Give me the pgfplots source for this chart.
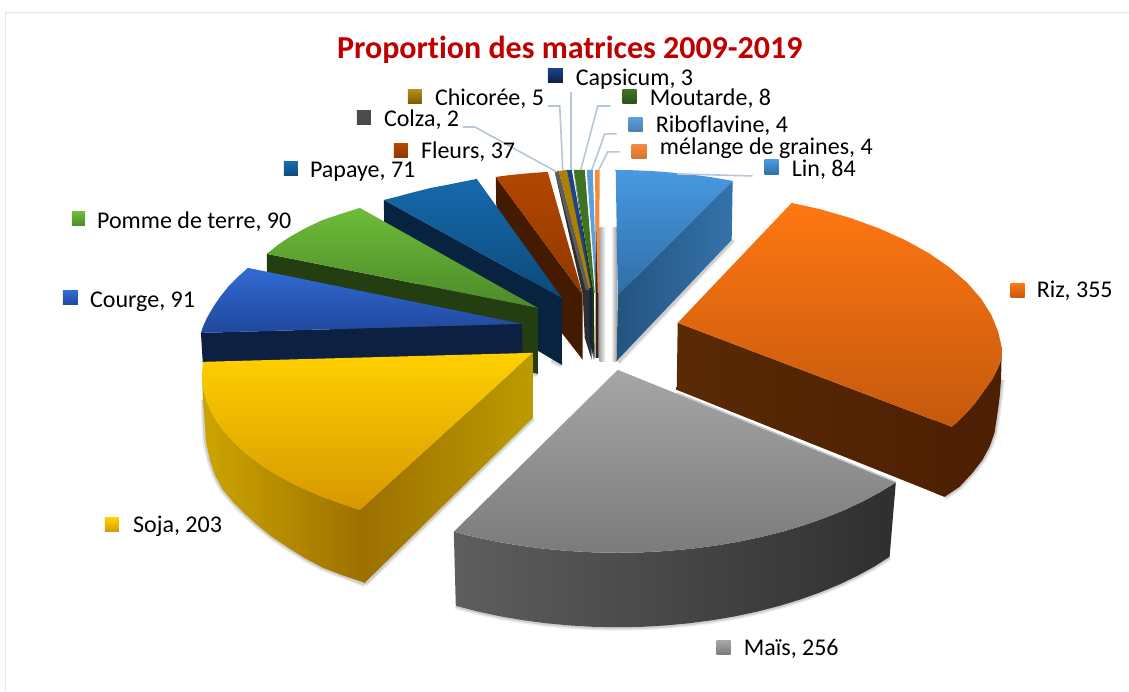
\documentclass[border=0pt]{standalone}
\usepackage{pgfplots}
\pgfplotsset{compat=1.18}
\usepackage{fontspec}
\setmainfont[Ligatures=NoCommon]{Carlito}
\definecolor{lead}{HTML}{B7C6DA}
\definecolor{titre}{HTML}{C00000}
\definecolor{frameC}{HTML}{E3E7ED}
\definecolor{linA}{HTML}{4899E2}\definecolor{linB}{HTML}{2F6DA6}\definecolor{linL}{HTML}{245480}\definecolor{linR}{HTML}{3472AA}
\definecolor{rizA}{HTML}{FF7712}\definecolor{rizB}{HTML}{C4590D}\definecolor{rizL}{HTML}{5A2A05}\definecolor{rizR}{HTML}{4E2003}
\definecolor{maiA}{HTML}{A6A6A6}\definecolor{maiB}{HTML}{7B7B7B}\definecolor{maiL}{HTML}{5E5E5E}\definecolor{maiR}{HTML}{2F2F2F}
\definecolor{sojA}{HTML}{FFD000}\definecolor{sojB}{HTML}{D69800}\definecolor{sojL}{HTML}{CDA500}\definecolor{sojM}{HTML}{9C6F00}\definecolor{sojR}{HTML}{BC9C00}
\definecolor{couA}{HTML}{316AD4}\definecolor{couB}{HTML}{20489C}\definecolor{couS}{HTML}{0E2041}
\definecolor{pomA}{HTML}{6EBC38}\definecolor{pomB}{HTML}{4B8A2A}\definecolor{pomS}{HTML}{243E11}
\definecolor{papA}{HTML}{1769AC}\definecolor{papB}{HTML}{0C4A7B}\definecolor{papS}{HTML}{07233F}
\definecolor{fleA}{HTML}{B34700}\definecolor{fleB}{HTML}{8F3700}\definecolor{fleS}{HTML}{441B00}
\definecolor{colT}{HTML}{5C5C5C}\definecolor{colS}{HTML}{2E2E2E}
\definecolor{chiT}{HTML}{AD8000}\definecolor{capT}{HTML}{1C4288}\definecolor{capS}{HTML}{0C1F45}
\definecolor{mouT}{HTML}{3F7322}\definecolor{mouS}{HTML}{1E3610}
\definecolor{ribT}{HTML}{5E9DD8}\definecolor{melT}{HTML}{F58A3A}\definecolor{melS}{HTML}{3A2015}
\newcommand{\lab}[3]{\node[anchor=base west,inner sep=0pt,font=\fontsize{24}{26}\selectfont,text=black] at (axis cs:#1,#2) {#3};}
\newcommand{\poly}[2]{\addplot[forget plot,draw=none,#1] coordinates {#2} -- cycle;}
\newcommand{\key}[6]{\addplot[forget plot,draw=none,top color=#1,bottom color=#2] coordinates {(#3,#4) (#5,#4) (#5,#6) (#3,#6)} -- cycle;}
\newcommand{\lead}[1]{\addplot[forget plot,color=lead,line width=1.6pt] coordinates {#1};}
\newcommand{\shadow}[1]{\addplot[forget plot,color=black,opacity=0.07,line width=7pt] coordinates {#1};\addplot[forget plot,color=black,opacity=0.13,line width=4pt] coordinates {#1};}
\begin{document}
\begin{tikzpicture}
\begin{axis}[hide axis,scale only axis,width=1129pt,height=691pt,xmin=0,xmax=1129,ymin=0,ymax=691,y dir=reverse,clip=false]
% background and frame
\poly{fill=white}{(0,0) (1129,0) (1129,691) (0,691)}
\addplot[forget plot,color=frameC,line width=1.8pt] coordinates {(5.5,691) (5.5,12.5)};
\addplot[forget plot,color=frameC,line width=1pt] coordinates {(5.5,12.5) (1129,12.5)};
% soft shadows
\poly{left color=white,right color=black!38}{(611,228) (617,228) (617,362) (611,362)}
\poly{left color=black!32,right color=white}{(600,228) (606,228) (606,362) (600,362)}
\shadow{(733,240) (618,362)}
\shadow{(533,418) (365,584)}
\shadow{(204,400) (205,425) (206,442) (210,460) (215,475) (223,490) (234,503) (245,514) (257,525) (272,537) (290,549) (306,559) (323,568) (344,576) (365,584)}
\shadow{(890,557) (874.4,567) (857.7,576.1) (839.8,584.7) (820.8,592.5) (800.8,599.7) (780,606.1) (758.3,611.7) (736,616.5) (713.1,620.4) (689.7,623.5) (666,625.7) (642.1,627.1) (618,627.5) (593.9,627.1) (570,625.7) (546.3,623.5) (522.9,620.4) (500,616.5) (477.7,611.7) (456,606.1)}
\shadow{(1002,380) (998,413) (995,433) (990,447) (983,460) (973,473) (960,487) (945,497)}
\shadow{(538,374) (530,373)}
\shadow{(562,365) (552,360)}
% Lin
\poly{left color=linL,right color=linR}{(618,295) (733,181) (732,240) (617,361)}
\poly{top color=linA,bottom color=linB}{(618,295) (616,170) (630,170.2) (650,171) (665,172) (680,173.5) (695,175) (710,177) (722,179) (733,181)}
% slivers
\poly{fill=colS}{(555,172) (592,290) (592,360) (585,338) (583,295)}
\poly{fill=colT}{(555,172) (559,171) (590,290) (586,290)}
\poly{fill=capS}{(565,172) (593,290) (594,360) (590,340) (590,290)}
\poly{fill=chiT}{(559,171) (567,170) (592,288) (589,288)}
\poly{fill=capT}{(567,170) (572,170) (594,293) (592,293)}
\poly{fill=mouS}{(574,172) (594,293) (595,360) (592,340) (592,293)}
\poly{fill=mouT}{(574,170) (585,170) (595,293) (594,293)}
\poly{fill=ribT}{(587,170) (593,170) (597,293) (596,293)}
\poly{fill=melS}{(596,200) (599,293) (599,358) (596,358) (596,293)}
\poly{fill=melT}{(595,170) (600,170) (599,293) (598,293)}
% Fleurs
\poly{fill=fleS}{(496,177) (583,295) (583,360) (562,333) (497,235)}
\poly{top color=fleA,bottom color=fleB}{(496,177) (509,175.3) (522,174) (535,172.8) (548,172) (583,295)}
% Papaye
\poly{fill=papS}{(384,200) (562,298) (562,365) (540,352) (385,265)}
\poly{top color=papA,bottom color=papB}{(384,200) (400,196) (415,192) (431,188) (447,185) (462,182) (477,179) (562,298)}
% Pomme de terre
\poly{fill=pomS}{(267,254) (538,308) (538,374) (530,372) (267,310)}
\poly{top color=pomA,bottom color=pomB}{(267,254) (278,245) (290,237) (306,228) (323,220) (341,214) (360,208) (538,308)}
% Courge
\poly{fill=couS}{(201,333) (522,324) (523,356) (203,365)}
\poly{top color=couA,bottom color=couB}{(248,268) (238,277) (229,286) (221,296) (214,306) (207,318) (203,327) (201,333) (522,324)}
% Soja
\poly{left color=sojL,right color=sojM}{(202,375) (203.3,388.8) (207,402.4) (213.3,415.9) (222,429) (233,441.8) (246.4,454) (261.8,465.6) (279.5,476.6) (299,486.7) (320.2,496) (343.1,504.4) (360,510) (368,510) (368,578) (365,583) (344,576) (323,568) (306,559) (290,549) (272,537) (257,525) (245,514) (234,503) (223,490) (215,475) (210,460) (206,442) (205,425) (203,400)}
\poly{left color=sojM,right color=sojR}{(360,510) (533,353) (533,418) (365,583)}
\poly{top color=sojA,bottom color=sojB}{(203,362) (533,353) (360,510) (343.1,504.4) (320.2,496) (299,486.7) (279.5,476.6) (261.8,465.6) (246.4,454) (233,441.8) (222,429) (213.3,415.9) (207,402.4) (203.3,388.8) (202,375) (202.5,369)}
% Riz
\poly{fill=rizR}{(935,420) (952,427) (959,421) (967,413) (975,404) (983,393) (993,379) (999,367) (1002,358) (1001.5,380) (1000,398) (998,413) (995,433) (990,447) (983,460) (973,473) (960,487) (945,497) (935,493)}
\poly{left color=rizL,right color=rizR}{(678,323) (952,427) (945,497) (677,390)}
\poly{top color=rizA,bottom color=rizB}{(678,323) (792,203) (820.6,209.3) (851.2,218.2) (879.8,228.6) (906,240.4) (929.5,253.4) (950,267.6) (967.4,282.7) (981.4,298.6) (991.8,315.1) (998.7,332) (1002,347) (1002,358) (999,367) (993,379) (983,393) (975,404) (967,413) (959,421) (952,427)}
% Maïs
\poly{left color=maiL,right color=maiR}{(454,532) (474.4,537.2) (497.3,542) (520.7,545.9) (544.6,549) (568.9,551.2) (593.4,552.6) (618,553) (642.6,552.6) (667.1,551.2) (691.4,549) (715.3,545.9) (738.7,542) (761.6,537.2) (783.7,531.6) (805,525.2) (825.5,518) (844.9,510.2) (863.2,501.6) (880.3,492.4) (896.2,482.7) (890,557) (874.4,567) (857.7,576.1) (839.8,584.7) (820.8,592.5) (800.8,599.7) (780,606.1) (758.3,611.7) (736,616.5) (713.1,620.4) (689.7,623.5) (666,625.7) (642.1,627.1) (618,627.5) (593.9,627.1) (570,625.7) (546.3,623.5) (522.9,620.4) (500,616.5) (477.7,611.7) (456,606.1)}
\poly{top color=maiA,bottom color=maiB}{(618,370) (896.2,482.7) (880.3,492.4) (863.2,501.6) (844.9,510.2) (825.5,518) (805,525.2) (783.7,531.6) (761.6,537.2) (738.7,542) (715.3,545.9) (691.4,549) (667.1,551.2) (642.6,552.6) (618,553) (593.4,552.6) (568.9,551.2) (544.6,549) (520.7,545.9) (497.3,542) (474.4,537.2) (454,532)}
\addplot[forget plot,color=black!22,line width=1.2pt] coordinates {(677,393) (896,482)};
% leader lines
\lead{(463,127) (475,127) (557,172)}
\lead{(548,106) (560,106) (563,170)}
\lead{(571,92) (571,170)}
\lead{(611,106) (598,106) (581,170)}
\lead{(617,134) (605,134) (592,170)}
\lead{(620,152) (608,152) (599,170)}
\lead{(677,174) (753,176)}
% legend keys
\key{capT}{capS}{548}{69}{563}{83}
\key{chiT!90!white}{chiT!70!black}{408}{90}{422}{104}
\key{colT!110}{colT!80!black}{357}{111}{371}{125}
\key{fleA}{fleB}{394}{144}{408}{158}
\key{papA}{papB}{284}{162}{298}{176}
\key{mouT}{mouT!70!black}{623}{90}{637}{104}
\key{ribT}{ribT!80!black}{629}{118}{643}{132}
\key{melT}{melT!85!black}{632}{145}{647}{159}
\key{linA}{linB}{765}{160}{779}{175}
\key{pomA}{pomB}{72}{212}{85}{226}
\key{couA}{couB}{63}{291}{78}{305}
\key{sojA}{sojB}{105}{518}{119}{532}
\key{maiA}{maiB}{717}{641}{731}{655}
\key{rizA}{rizB}{1011}{284}{1025}{298}
% texts
\node[anchor=base west,inner sep=0pt,font=\bfseries\fontsize{32}{35}\selectfont,text=titre] at (axis cs:337,59) {Proportion des matrices 2009-2019};
\lab{576}{86}{Capsicum, 3}
\lab{435}{106}{Chicorée, 5}
\lab{384}{127}{Colza, 2}
\lab{421}{159}{Fleurs, 37}
\lab{310}{178}{Papaye, 71}
\lab{650}{106}{Moutarde, 8}
\lab{656}{133}{Riboflavine, 4}
\lab{660}{155}{mélange de graines, 4}
\lab{792}{177}{Lin, 84}
\lab{97}{229}{Pomme de terre, 90}
\lab{90}{308}{Courge, 91}
\lab{133}{533}{Soja, 203}
\lab{744}{656}{Maïs, 256}
\lab{1037}{298}{Riz, 355}
\end{axis}
\end{tikzpicture}
\end{document}
